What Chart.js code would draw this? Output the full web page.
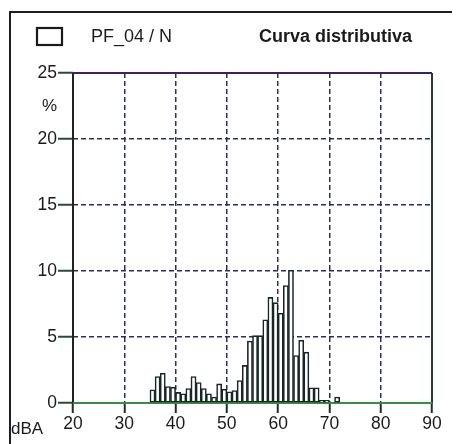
<!DOCTYPE html>
<html>
<head>
<meta charset="utf-8">
<script src="https://cdn.jsdelivr.net/npm/chart.js@4/dist/chart.umd.min.js"></script>
<style>
  html, body { margin: 0; padding: 0; background: #fff; }
  #wrap { width: 456px; height: 444px; }
</style>
</head>
<body>
<div id="wrap"><canvas id="curva" width="456" height="444"></canvas></div>
<script>
/* curva distributiva PF_04 / N - percentuale per classe di 1 dBA */
const serieNome = 'PF_04 / N';
const titolo = 'Curva distributiva';

const dbBins = [35, 36, 37, 38, 39, 40, 41, 42, 43, 44, 45, 46, 47, 48, 49, 50, 51, 52,
    53, 54, 55, 56, 57, 58, 59, 60, 61, 62, 63, 64, 65, 66, 67, 68, 69, 70, 71];
const pctValues = [1.0, 2.0, 2.25, 1.25, 1.2, 0.8, 0.7, 1.1, 2.0, 1.55, 1.1, 0.7, 0.45, 1.45, 1.05, 0.85, 0.95, 1.7,
    2.85, 4.7, 5.1, 5.1, 6.3, 8.0, 7.6, 6.8, 8.9, 10.05, 3.6, 4.75, 3.85, 1.15, 1.15, 0.2, 0.2, 0, 0.45];

const xTicks = [20, 30, 40, 50, 60, 70, 80, 90];
const yTicks = [0, 5, 10, 15, 20, 25];

const FONT = "'Liberation Sans', Arial, sans-serif";
const INK = '#1b1b1b';
const GRID = '#2c2e5a';

// ogni barra copre la classe [n, n+1]
const barre = dbBins.map((b, i) => ({ x: b + 0.5, y: pctValues[i] }));

const cornice = {
    id: 'cornice',
    beforeDatasetsDraw(chart) {
        const { ctx, chartArea: a } = chart;
        ctx.save();
        ctx.setLineDash([]);
        ctx.lineWidth = 2;
        // bordo alto e destro dell'area
        ctx.strokeStyle = '#3e2160';
        ctx.beginPath();
        ctx.moveTo(a.left, a.top);
        ctx.lineTo(a.right, a.top);
        ctx.stroke();
        ctx.strokeStyle = '#2a3838';
        ctx.beginPath();
        ctx.moveTo(a.right, a.top);
        ctx.lineTo(a.right, a.bottom);
        ctx.stroke();
        ctx.strokeStyle = '#222';
        ctx.beginPath();
        ctx.moveTo(a.left, a.top);
        ctx.lineTo(a.left, a.bottom);
        ctx.stroke();
        // linea dello zero
        ctx.strokeStyle = '#3b8c48';
        ctx.beginPath();
        ctx.moveTo(a.left, a.bottom);
        ctx.lineTo(a.right, a.bottom);
        ctx.stroke();
        ctx.restore();
    },
    afterDraw(chart) {
        const { ctx } = chart;
        ctx.save();
        // cornice esterna
        ctx.strokeStyle = '#1c1c2c';
        ctx.lineWidth = 2;
        ctx.beginPath();
        ctx.moveTo(10, 444);
        ctx.lineTo(10, 12);
        ctx.lineTo(452, 12);
        ctx.stroke();

        // intestazione
        ctx.lineWidth = 2.2;
        ctx.strokeStyle = '#1a1a1a';
        ctx.strokeRect(37, 28, 25, 17);
        ctx.fillStyle = INK;
        ctx.textBaseline = 'middle';
        ctx.textAlign = 'left';
        ctx.font = '18px ' + FONT;
        ctx.fillText(chart.data.datasets[0].label, 91, 37);
        ctx.font = 'bold 18px ' + FONT;
        ctx.fillText(titolo, 259, 37);

        // unità degli assi
        ctx.font = '17px ' + FONT;
        ctx.fillText('%', 42, 106);
        ctx.fillText('dBA', 11, 429);
        ctx.restore();
    }
};

const config = {
    type: 'bar',
    data: {
        datasets: [{
            label: serieNome,
            data: barre,
            backgroundColor: '#ffffff',
            borderColor: '#1a2626',
            borderWidth: 1.6,
            borderSkipped: false,
            barPercentage: 1,
            categoryPercentage: 1
        }]
    },
    options: {
        responsive: false,
        animation: false,
        layout: { padding: { left: 0, top: 73, right: 24, bottom: 0 } },
        plugins: {
            legend: { display: false },
            title: { display: false },
            tooltip: { enabled: false }
        },
        scales: {
            x: {
                type: 'linear',
                min: 20,
                max: 90,
                offset: false,
                afterBuildTicks: s => { s.ticks = xTicks.map(v => ({ value: v })); },
                afterFit: s => { s.height = 41; },
                border: { display: false, dash: [5, 3] },
                grid: {
                    offset: false,
                    lineWidth: 1.5,
                    color: c => (c.tick && (c.tick.value === 20 || c.tick.value === 90)) ? 'rgba(0,0,0,0)' : GRID,
                    tickLength: 10,
                    tickColor: '#1e2e2e',
                    tickWidth: 2,
                    tickBorderDash: []
                },
                ticks: {
                    color: INK,
                    padding: 2,
                    maxRotation: 0,
                    font: { family: FONT, size: 17.5, lineHeight: 1 }
                }
            },
            y: {
                min: 0,
                max: 25,
                afterBuildTicks: s => { s.ticks = yTicks.map(v => ({ value: v })); },
                afterFit: s => { s.width = 73; },
                border: { display: false, dash: [5, 3] },
                grid: {
                    lineWidth: 1.5,
                    color: c => (c.tick && (c.tick.value === 0 || c.tick.value === 25)) ? 'rgba(0,0,0,0)' : GRID,
                    tickLength: 15,
                    tickColor: '#2d4a34',
                    tickWidth: 2,
                    tickBorderDash: []
                },
                ticks: {
                    color: INK,
                    padding: 1,
                    font: { family: FONT, size: 17.5, lineHeight: 1 }
                }
            }
        }
    },
    plugins: [cornice]
};

const curva = new Chart(document.getElementById('curva'), config);
</script>
</body>
</html>
